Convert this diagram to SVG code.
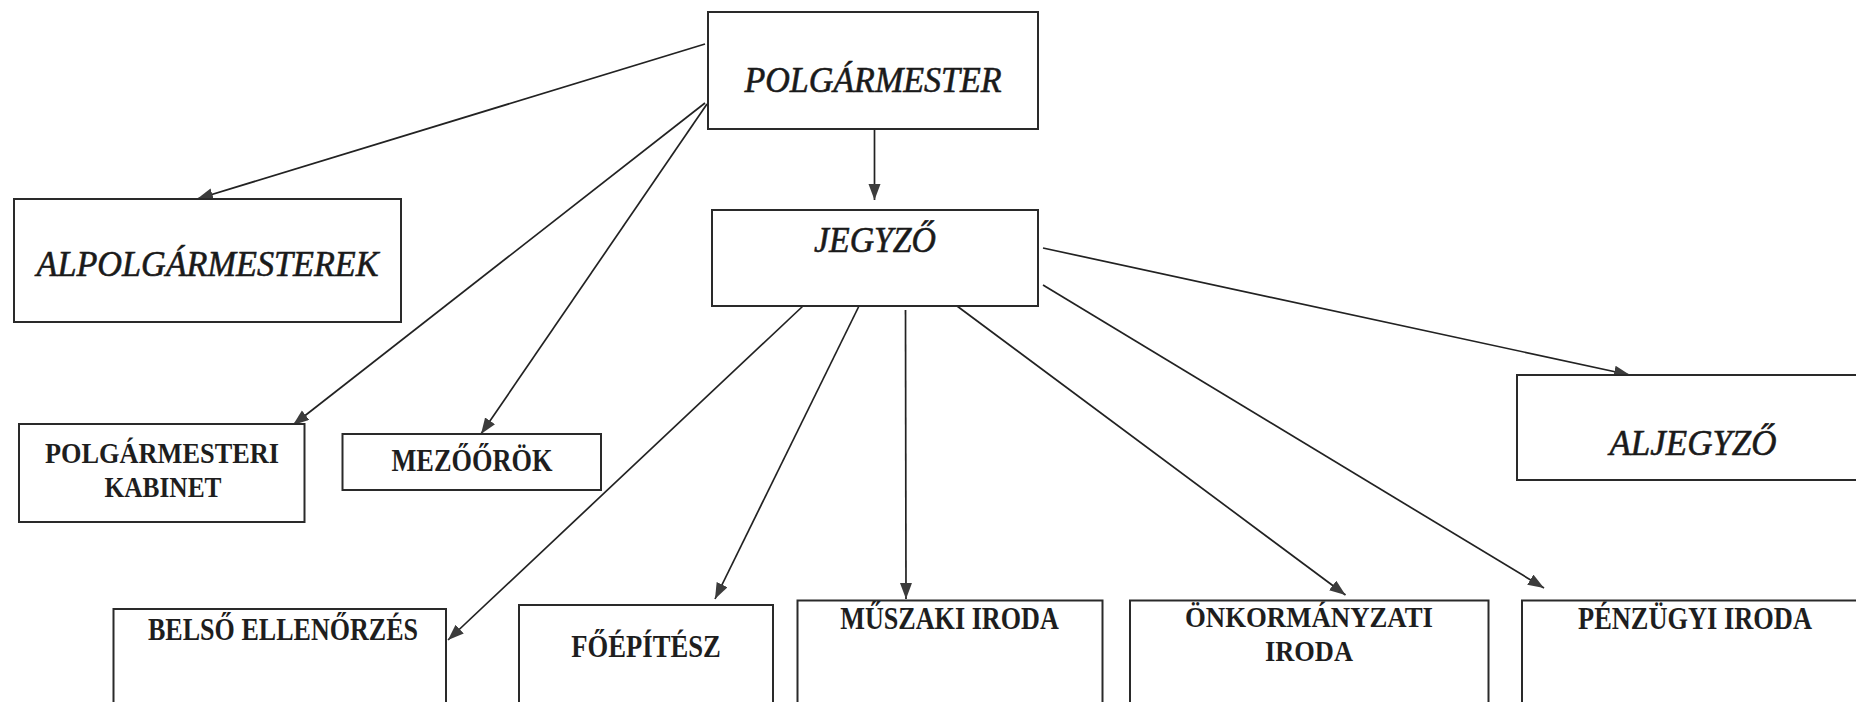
<svg xmlns="http://www.w3.org/2000/svg" width="1856" height="702" viewBox="0 0 1856 702">
<style>
.box{fill:#fff;stroke:#2a2a2a;stroke-width:2}
.it{font-family:"Liberation Serif","Times New Roman",serif;font-style:italic;font-weight:normal;font-size:36px;fill:#1a1a1a;stroke:#1a1a1a;stroke-width:0.6;text-anchor:middle}
.bd{font-family:"Liberation Serif","Times New Roman",serif;font-weight:bold;font-size:31px;fill:#1e1e1e;text-anchor:middle}
.bd2{font-family:"Liberation Serif","Times New Roman",serif;font-weight:bold;font-size:29px;fill:#1e1e1e;text-anchor:middle}
.ln{stroke:#222;stroke-width:1.7;fill:none;marker-end:url(#ah)}
</style>
<defs>
<marker id="ah" markerWidth="18" markerHeight="13" refX="16" refY="6" orient="auto" markerUnits="userSpaceOnUse">
<path d="M0,0 L16,6 L0,12 z" fill="#3c3c3c"/>
</marker>
</defs>
<rect x="0" y="0" width="1856" height="702" fill="#fff"/>
<g id="connectors">
<line class="ln" x1="705" y1="44" x2="197" y2="199"/>
<line class="ln" x1="705" y1="103" x2="293" y2="425"/>
<line class="ln" x1="707" y1="104" x2="481" y2="434"/>
<line class="ln" x1="874.5" y1="129" x2="874.5" y2="200"/>
<line class="ln" x1="803" y1="306" x2="448" y2="640"/>
<line class="ln" x1="859" y1="306" x2="715" y2="599"/>
<line class="ln" x1="905.5" y1="310" x2="906" y2="599"/>
<line class="ln" x1="957" y1="306" x2="1345.5" y2="595"/>
<line class="ln" x1="1043" y1="285" x2="1544" y2="588"/>
<line class="ln" x1="1043" y1="248" x2="1630" y2="375"/>
</g>
<g id="polgarmester">
<rect class="box" x="708" y="12" width="330" height="117"/>
<text class="it" x="873" y="92" textLength="257" lengthAdjust="spacingAndGlyphs">POLGÁRMESTER</text>
</g>
<g id="alpolgarmesterek">
<rect class="box" x="14" y="199" width="387" height="123"/>
<text class="it" x="207.5" y="276" textLength="342" lengthAdjust="spacingAndGlyphs">ALPOLGÁRMESTEREK</text>
</g>
<g id="jegyzo">
<rect class="box" x="712" y="210" width="326" height="96"/>
<text class="it" x="875" y="252" textLength="122" lengthAdjust="spacingAndGlyphs">JEGYZŐ</text>
</g>
<g id="aljegyzo">
<rect class="box" x="1517" y="375" width="345" height="105"/>
<text class="it" x="1693" y="455" textLength="167" lengthAdjust="spacingAndGlyphs">ALJEGYZŐ</text>
</g>
<g id="kabinet">
<rect class="box" x="19" y="424" width="285.5" height="98"/>
<text class="bd2" x="162" y="463" textLength="234" lengthAdjust="spacingAndGlyphs">POLGÁRMESTERI</text>
<text class="bd2" x="163" y="497" textLength="117" lengthAdjust="spacingAndGlyphs">KABINET</text>
</g>
<g id="mezoorok">
<rect class="box" x="342.5" y="434" width="258.5" height="56"/>
<text class="bd" x="472" y="471" textLength="161" lengthAdjust="spacingAndGlyphs">MEZŐŐRÖK</text>
</g>
<g id="belso">
<rect class="box" x="113.5" y="609" width="332.5" height="110"/>
<text class="bd" x="283" y="640" textLength="270" lengthAdjust="spacingAndGlyphs">BELSŐ ELLENŐRZÉS</text>
</g>
<g id="foepitesz">
<rect class="box" x="519" y="605" width="254" height="110"/>
<text class="bd" x="646" y="657" textLength="149.5" lengthAdjust="spacingAndGlyphs">FŐÉPÍTÉSZ</text>
</g>
<g id="muszaki">
<rect class="box" x="797.5" y="600.5" width="305" height="115"/>
<text class="bd" x="949.5" y="629" textLength="218.5" lengthAdjust="spacingAndGlyphs">MŰSZAKI IRODA</text>
</g>
<g id="onkormanyzati">
<rect class="box" x="1130" y="600.5" width="358.5" height="115"/>
<text class="bd2" x="1309" y="627" textLength="248" lengthAdjust="spacingAndGlyphs">ÖNKORMÁNYZATI</text>
<text class="bd2" x="1309" y="661" textLength="88" lengthAdjust="spacingAndGlyphs">IRODA</text>
</g>
<g id="penzugyi">
<rect class="box" x="1522" y="600.5" width="340" height="115"/>
<text class="bd" x="1695" y="629" textLength="234" lengthAdjust="spacingAndGlyphs">PÉNZÜGYI IRODA</text>
</g>
</svg>
